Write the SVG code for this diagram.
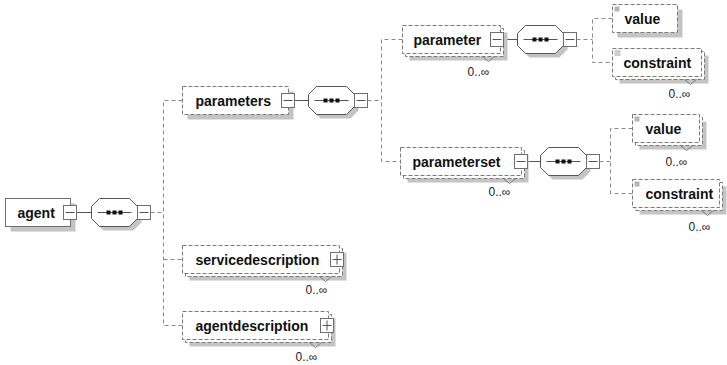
<svg xmlns="http://www.w3.org/2000/svg" xmlns:xlink="http://www.w3.org/1999/xlink" width="727" height="365" viewBox="0 0 727 365">
<style>
.sh{fill:#c4c4c4}
.req{fill:#fff;stroke:#6f6f6f;stroke-width:1}
.opt{fill:#fff;stroke:#7a7a7a;stroke-width:1;stroke-dasharray:4 2}
.btn{fill:#fff;stroke:#6f6f6f;stroke-width:1}
.bl{stroke:#555;stroke-width:1;fill:none}
.con{stroke:#555;stroke-width:1;fill:none}
.dcon{stroke:#8a8a8a;stroke-width:1;fill:none;stroke-dasharray:4 3}
.oct{fill:#fff;stroke:#555;stroke-width:1}
.notch{fill:none;stroke:#7a7a7a;stroke-width:1}
.ico{fill:#b5b5b5}
.lbl{font-family:"Liberation Sans",Arial,sans-serif;font-weight:bold;font-size:14px;fill:#111}
.occ{font-family:"Liberation Sans",Arial,sans-serif;font-size:12px;fill:#222}
</style>
<defs>
<g id="seq">
<path class="sh" d="M12,4 H42 L50,12 V24 L42,32 H12 L4,24 V12 Z"/>
<path class="oct" d="M8,0 H38 L46,8 V20 L38,28 H8 L0,20 V8 Z"/>
<line class="bl" x1="6" y1="14" x2="40" y2="14"/>
<rect x="15" y="12" width="4" height="4" fill="#111"/>
<rect x="21" y="12" width="4" height="4" fill="#111"/>
<rect x="27" y="12" width="4" height="4" fill="#111"/>
<rect class="btn" x="46" y="7" width="13" height="14"/>
<line class="bl" x1="48" y1="14" x2="57" y2="14"/>
</g>
</defs>
<g transform="translate(0.5,0.5)">
<g id="connectors">
<line class="con" x1="76" y1="212" x2="91" y2="212"/>
<line class="dcon" x1="150" y1="212" x2="163" y2="212"/>
<path class="dcon" d="M182,100 H163 V325 H182"/>
<line class="dcon" x1="163" y1="259" x2="182" y2="259"/>
<line class="con" x1="294" y1="100" x2="308" y2="100"/>
<line class="dcon" x1="367" y1="100" x2="381" y2="100"/>
<path class="dcon" d="M402,39 H381 V161 H400"/>
<line class="con" x1="503" y1="39" x2="517" y2="39"/>
<line class="dcon" x1="576" y1="39" x2="592" y2="39"/>
<path class="dcon" d="M612,18 H592 V62 H612"/>
<line class="con" x1="527" y1="161" x2="540" y2="161"/>
<line class="dcon" x1="599" y1="161" x2="610" y2="161"/>
<path class="dcon" d="M632,128 H610 V193 H632"/>
</g>
<g id="seq1"><use xlink:href="#seq" x="91" y="198"/></g>
<g id="seq2"><use xlink:href="#seq" x="308" y="86"/></g>
<g id="seq3"><use xlink:href="#seq" x="517" y="25"/></g>
<g id="seq4"><use xlink:href="#seq" x="540" y="147"/></g>
<g id="agent">
<rect class="sh" x="10" y="203" width="65" height="28"/>
<rect class="req" x="5" y="198" width="65" height="28"/>
<text class="lbl" x="17" y="217">agent</text>
<rect class="btn" x="63" y="205" width="13" height="14"/>
<line class="bl" x1="65" y1="212" x2="74" y2="212"/>
</g>
<g id="parameters">
<rect class="sh" x="187" y="91" width="106" height="28"/>
<rect class="opt" x="182" y="86" width="106" height="28"/>
<text class="lbl" x="195" y="105">parameters</text>
<rect class="btn" x="281" y="93" width="13" height="14"/>
<line class="bl" x1="283" y1="100" x2="292" y2="100"/>
</g>
<g id="parameter">
<rect class="sh" x="409" y="32" width="98" height="28"/>
<rect class="opt" x="405" y="28" width="98" height="28"/>
<rect class="opt" x="402" y="25" width="98" height="28"/>
<text class="lbl" x="413" y="44">parameter</text>
<rect class="btn" x="490" y="32" width="13" height="14"/>
<line class="bl" x1="492" y1="39" x2="501" y2="39"/>
<polyline class="notch" points="482,56 488,61 494,56"/>
<text class="occ" x="467" y="75">0..∞</text>
</g>
<g id="value1">
<rect class="sh" x="617" y="9" width="65" height="28"/>
<rect class="opt" x="612" y="4" width="65" height="28"/>
<rect class="ico" x="614" y="6" width="5" height="5"/>
<text class="lbl" x="624" y="23">value</text>
</g>
<g id="constraint1">
<rect class="sh" x="619" y="55" width="89" height="28"/>
<rect class="opt" x="615" y="51" width="89" height="28"/>
<rect class="opt" x="612" y="48" width="89" height="28"/>
<path d="M614,50.5 H620 M614,52.5 H620 M614,54.5 H620" stroke="#9a9a9a" stroke-width="1"/>
<text class="lbl" x="623" y="67">constraint</text>
<polyline class="notch" points="684,79 690,84 696,79"/>
<text class="occ" x="668" y="97">0..∞</text>
</g>
<g id="parameterset">
<rect class="sh" x="407" y="154" width="121" height="28"/>
<rect class="opt" x="403" y="150" width="121" height="28"/>
<rect class="opt" x="400" y="147" width="121" height="28"/>
<text class="lbl" x="412" y="166">parameterset</text>
<rect class="btn" x="514" y="154" width="13" height="14"/>
<line class="bl" x1="516" y1="161" x2="525" y2="161"/>
<polyline class="notch" points="503,178 509,183 515,178"/>
<text class="occ" x="488" y="195">0..∞</text>
</g>
<g id="value2">
<rect class="sh" x="639" y="121" width="67" height="28"/>
<rect class="opt" x="635" y="117" width="67" height="28"/>
<rect class="opt" x="632" y="114" width="67" height="28"/>
<rect class="ico" x="634" y="116" width="5" height="5"/>
<text class="lbl" x="645" y="133">value</text>
<polyline class="notch" points="680,145 686,150 692,145"/>
<text class="occ" x="665" y="165">0..∞</text>
</g>
<g id="constraint2">
<rect class="sh" x="639" y="186" width="87" height="28"/>
<rect class="opt" x="635" y="182" width="87" height="28"/>
<rect class="opt" x="632" y="179" width="87" height="28"/>
<rect class="ico" x="634" y="181" width="5" height="5"/>
<text class="lbl" x="645" y="198">constraint</text>
<polyline class="notch" points="701,210 707,215 713,210"/>
<text class="occ" x="688" y="230">0..∞</text>
</g>
<g id="servicedescription">
<rect class="sh" x="189" y="252" width="157" height="28"/>
<rect class="opt" x="185" y="248" width="157" height="28"/>
<rect class="opt" x="182" y="245" width="157" height="28"/>
<text class="lbl" x="195" y="264">servicedescription</text>
<rect class="btn" x="330" y="252" width="13" height="14"/>
<path class="bl" d="M332,259 H341 M336.5,254 V264"/>
<polyline class="notch" points="319,276 325,281 331,276"/>
<text class="occ" x="305" y="293">0..∞</text>
</g>
<g id="agentdescription">
<rect class="sh" x="189" y="318" width="146" height="28"/>
<rect class="opt" x="185" y="314" width="146" height="28"/>
<rect class="opt" x="182" y="311" width="146" height="28"/>
<text class="lbl" x="195" y="330">agentdescription</text>
<rect class="btn" x="320" y="318" width="13" height="14"/>
<path class="bl" d="M322,325 H331 M326.5,320 V330"/>
<polyline class="notch" points="309,342 315,347 321,342"/>
<text class="occ" x="295" y="360">0..∞</text>
</g>
</g>
</svg>
